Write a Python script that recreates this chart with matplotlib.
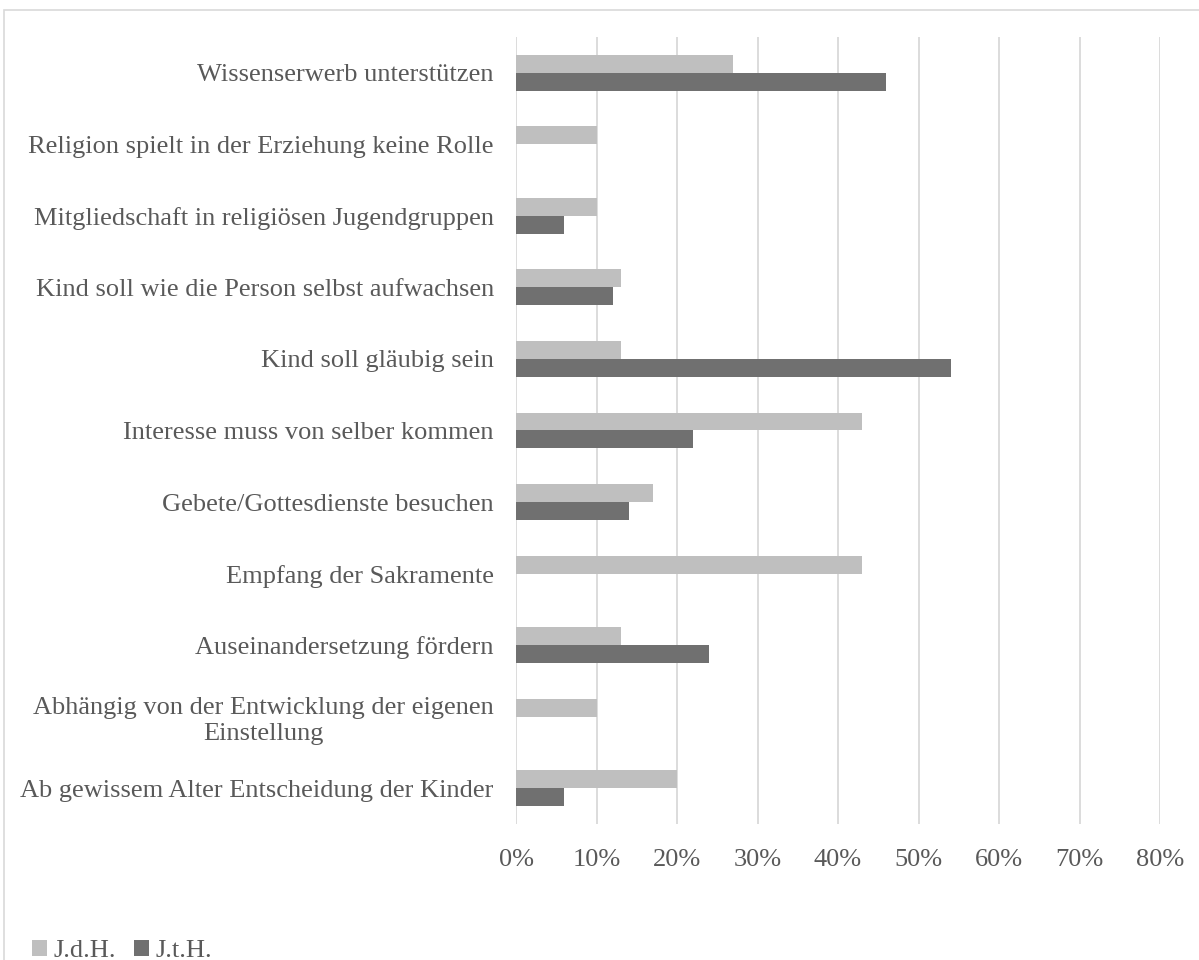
import numpy as np
import matplotlib
matplotlib.use('Agg')
import matplotlib.pyplot as plt
from matplotlib.patches import Rectangle


categories = [
    "Wissenserwerb unterstützen",
    "Religion spielt in der Erziehung keine Rolle",
    "Mitgliedschaft in religiösen Jugendgruppen",
    "Kind soll wie die Person selbst aufwachsen",
    "Kind soll gläubig sein",
    "Interesse muss von selber kommen",
    "Gebete/Gottesdienste besuchen",
    "Empfang der Sakramente",
    "Auseinandersetzung fördern",
    "Abhängig von der Entwicklung der eigenen\nEinstellung",
    "Ab gewissem Alter Entscheidung der Kinder",
]
jdh = [27, 10, 10, 13, 13, 43, 17, 43, 13, 10, 20]
jth = [46, 0, 6, 12, 54, 22, 14, 0, 24, 0, 6]
series_names = ["J.d.H.", "J.t.H."]
xticks = [0, 10, 20, 30, 40, 50, 60, 70, 80]

LIGHT = '#bfbfbf'
DARK = '#707070'
TEXT = '#595959'
GRID = '#d9d9d9'
FS = 19

plt.rcParams['font.family'] = ['Liberation Serif', 'DejaVu Serif']

fig = plt.figure(figsize=(11.99, 9.6), dpi=100)
ax = fig.add_axes([0.4304, 0.1417, 0.9675 - 0.4304, 0.9615 - 0.1417])

y = np.arange(len(categories))
h = 0.25
b1 = ax.barh(y - h / 2, jdh, height=h, color=LIGHT, label=series_names[0])
b2 = ax.barh(y + h / 2, jth, height=h, color=DARK, label=series_names[1])

ax.set_ylim(len(categories) - 0.5, -0.5)
ax.set_xlim(0, 80)
ax.set_xticks(xticks)
ax.set_xticklabels(["%d%%" % t for t in xticks])
ax.set_yticks(y)
ax.set_yticklabels(categories, multialignment='center')

ax.xaxis.grid(True, color=GRID, linewidth=1.3)
ax.set_axisbelow(True)
for s in ax.spines.values():
    s.set_visible(False)
ax.tick_params(axis='both', length=0, labelsize=FS, colors=TEXT)
ax.tick_params(axis='x', pad=18)
ax.tick_params(axis='y', pad=16)

# chart border
fig.patches.append(Rectangle((4 / 1199, -0.1), 1.2, 1 - 10 / 960 + 0.1,
                             transform=fig.transFigure, fill=False,
                             edgecolor=GRID, linewidth=1.2))

fig.legend(handles=[b1, b2], loc='lower left', bbox_to_anchor=(0.007, -0.027),
           ncol=2, frameon=False, fontsize=FS, labelcolor=TEXT,
           handlelength=0.55, handleheight=0.55, handletextpad=0.25,
           columnspacing=0.7)

fig.savefig('out.png', dpi=100)
